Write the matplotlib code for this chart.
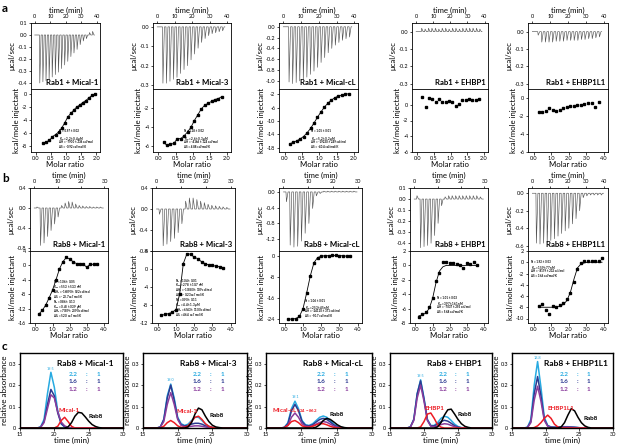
import numpy as np
import matplotlib.pyplot as plt
from matplotlib.ticker import FormatStrFormatter

plt.rcParams['font.family'] = ['Lato', 'DejaVu Sans']
plt.rcParams['mathtext.default'] = 'regular'
plt.rcParams['axes.unicode_minus'] = False

W, H = 617, 445

# ---------------- row a: Rab1 ITC ----------------
A_TITLES = ["Rab1 + Mical-1", "Rab1 + Mical-3", "Rab1 + Mical-cL", "Rab1 + EHBP1", "Rab1 + EHBP1L1"]
A_INJ_TIME = [3, 5, 7, 9, 11, 13, 15, 17, 19, 21, 23, 25, 27, 29, 31, 33, 35, 37]

A1_PEAKS = [-0.40, -0.39, -0.38, -0.37, -0.35, -0.33, -0.31, -0.28, -0.25, -0.22, -0.18, -0.15, -0.12, -0.08, -0.05, -0.03, 0.02, 0.03]
A2_PEAKS = [-0.29, -0.29, -0.28, -0.27, -0.26, -0.24, -0.22, -0.20, -0.17, -0.14, -0.11, -0.08, -0.06, -0.045, -0.035, -0.03, -0.025, -0.02]
A3_PEAKS = [-1.02, -1.05, -1.03, -1.00, -0.97, -0.93, -0.88, -0.82, -0.75, -0.66, -0.57, -0.48, -0.40, -0.34, -0.29, -0.25, -0.22, -0.19]
A4_PEAKS = [0.02, 0.015, 0.02, 0.02, 0.02, 0.015, 0.02, 0.02, 0.015, 0.02, 0.02, 0.015, 0.02, 0.02, 0.02, 0.02, 0.02, 0.015]
A5_PEAKS = [-0.02, -0.06, -0.06, -0.06, -0.06, -0.055, -0.055, -0.055, -0.05, -0.05, -0.05, -0.05, -0.045, -0.045, -0.04, -0.04, -0.035, -0.03]

A1_RATIO = [0.25, 0.35, 0.45, 0.55, 0.65, 0.75, 0.85, 0.95, 1.05, 1.15, 1.25, 1.35, 1.45, 1.55, 1.65, 1.75, 1.85, 1.95]
A_RATIO = [0.15, 0.25, 0.35, 0.45, 0.55, 0.65, 0.75, 0.85, 0.95, 1.05, 1.15, 1.25, 1.35, 1.45, 1.55, 1.65, 1.75, 1.85]
A5_RATIO = [0.3, 0.5, 0.7, 0.9, 1.1, 1.3, 1.5, 1.7, 1.9, 2.1, 2.3, 2.5, 2.7, 2.9, 3.1, 3.3, 3.5, 3.7]

A1_HEAT = [-7.6, -7.4, -7.2, -6.6, -6.3, -5.9, -5.3, -4.5, -3.6, -3.0, -2.5, -2.0, -1.7, -1.3, -1.0, -0.6, -0.2, 0.0]
A2_HEAT = [-5.6, -5.9, -5.8, -5.7, -5.2, -5.2, -4.9, -4.5, -4.0, -3.3, -2.7, -2.1, -1.7, -1.5, -1.3, -1.1, -1.0, -0.8]
A3_HEAT = [-16.8, -16.3, -15.9, -15.3, -14.6, -13.5, -12.2, -10.6, -8.9, -7.3, -5.9, -4.7, -3.8, -3.1, -2.6, -2.3, -2.1, -1.9]
A4_HEAT = [1.0, -0.3, 0.8, 0.7, 0.4, 0.7, 0.3, 0.3, 0.5, 0.4, -0.2, 0.1, 0.6, 0.6, 0.7, 0.6, 0.6, 0.7]
A5_HEAT = [-1.5, -1.6, -1.4, -1.1, -1.3, -1.4, -1.3, -1.1, -1.0, -0.9, -0.9, -0.8, -0.8, -0.7, -0.6, -0.6, -1.0, -0.4]

A_NOTES = [
    ["N = 0.97 ± 0.02", "K$_D$ = 2.2 ± 0.4 μM", "ΔH = -7900 ± 236 cal/mol", "ΔS = -0.92 cal/mol/K"],
    ["N = 1.18 ± 0.02", "K$_D$ = 2.6 ± 0.3 μM", "ΔH = -4166 ± 124 cal/mol", "ΔS = 4.88 cal/mol/K"],
    ["N = 1.05 ± 0.01", "K$_D$ = 5.2 ± 0.2 μM", "ΔH = -19230 ± 249 cal/mol", "ΔS = -40.4 cal/mol/K"],
    None, None,
]

# ---------------- row b: Rab8 ITC ----------------
B_TITLES = ["Rab8 + Mical-1", "Rab8 + Mical-3", "Rab8 + Mical-cL", "Rab8 + EHBP1", "Rab8 + EHBP1L1"]
B_INJ_TIME = [1, 2.5, 4, 5.5, 7, 8.5, 10, 11.5, 13, 14.5, 16, 17.5, 19, 20.5, 22, 23.5, 25, 26.5, 28]
B5_INJ_TIME = [2, 4, 6, 8, 10, 12, 14, 16, 18, 20, 22, 24, 26, 28, 30, 32, 34, 36, 38]

B1_PEAKS = [0.02, -0.75, -0.70, -0.57, -0.45, -0.32, -0.18, 0.05, 0.10, 0.13, 0.12, 0.08, 0.05, 0.04, 0.03, 0.03, 0.02, 0.02, 0.02]
B2_PEAKS = [-0.10, -0.70, -0.67, -0.62, -0.56, -0.45, -0.28, 0.15, 0.21, 0.21, 0.18, 0.15, 0.12, 0.09, 0.07, 0.06, 0.05, 0.04, 0.03]
B3_PEAKS = [-0.25, -1.35, -1.40, -1.38, -1.25, -1.05, -0.80, -0.42, -0.10, -0.04, 0.02, 0.02, 0.02, 0.02, 0.02, 0.02, 0.02, 0.02, 0.02]
B4_PEAKS = [0.03, -0.44, -0.43, -0.42, -0.40, -0.33, -0.22, -0.06, 0.02, 0.03, 0.03, 0.03, 0.03, 0.03, 0.03, 0.03, 0.03, 0.03, 0.02]
B5_PEAKS = [-0.57, -0.58, -0.57, -0.56, -0.54, -0.52, -0.49, -0.46, -0.43, -0.40, -0.35, -0.29, -0.20, -0.05, -0.03, -0.02, -0.02, -0.02, -0.02]

B_RATIO = [0.2, 0.4, 0.6, 0.8, 1.0, 1.2, 1.4, 1.6, 1.8, 2.0, 2.2, 2.4, 2.6, 2.8, 3.0, 3.2, 3.4, 3.6]
B5_RATIO = [0.3, 0.5, 0.7, 0.9, 1.1, 1.3, 1.5, 1.7, 1.9, 2.1, 2.3, 2.5, 2.7, 2.9, 3.1, 3.3, 3.5, 3.7, 3.9]

B1_HEAT = [-13.5, -12.5, -11.0, -9.0, -6.8, -4.0, -1.0, 1.0, 2.2, 1.8, 1.0, 0.5, 0.5, 0.3, -0.5, 0.3, 0.3, 0.3]
B2_HEAT = [-10.3, -10.1, -9.9, -9.6, -9.0, -5.5, 1.2, 3.4, 3.3, 2.6, 2.3, 1.6, 1.2, 0.9, 0.8, 0.6, 0.5, 0.3]
B3_HEAT = [-24.0, -24.0, -23.8, -23.0, -20.0, -14.0, -7.5, -2.5, -0.5, 0.0, 0.2, 0.2, 0.3, 0.3, 0.2, 0.2, 0.0, 0.2]
B4_HEAT = [-7.2, -6.8, -6.5, -5.8, -4.5, -2.1, -1.1, 0.5, 0.5, 0.4, 0.3, 0.2, 0.1, -0.4, 0.3, 0.2, 0.5, 0.1]
B5_HEAT = [-7.8, -7.5, -8.5, -9.2, -7.8, -8.0, -7.6, -7.2, -6.5, -5.5, -3.5, -1.2, -0.2, 0.2, 0.3, 0.3, 0.2, 0.3, 0.7]

B4_FIT = [-7.0, -6.9, -6.6, -6.0, -4.6, -2.4, -0.8, -0.2, 0.0, 0.0, 0.0, 0.0, 0.0, 0.0, 0.0, 0.0, 0.0, 0.0]
B5_FIT = [-8.0, -8.0, -8.0, -8.0, -8.0, -7.9, -7.8, -7.5, -6.8, -5.3, -3.0, -1.0, -0.3, -0.1, 0.0, 0.0, 0.0, 0.0, 0.0]

B_NOTES = [
    ["N$_1$ = 1.06 ± 0.05", "K$_{D1}$ = 55.3 ± 53.3 nM", "ΔH$_1$ = -16090 ± 922 cal/mol", "ΔS$_1$ = -20.7 cal/mol/K",
     "N$_2$ = 0.86 ± 0.13", "K$_{D2}$ = 0.48 ± 0.39 μM", "ΔH$_2$ = 7039 ± 2390 cal/mol", "ΔS$_2$ = 52.0 cal/mol/K"],
    ["N$_1$ = 1.04 ± 0.01", "K$_{D1}$ = 27.8 ± 10.7 nM", "ΔH$_1$ = -10380 ± 109 cal/mol", "ΔS$_1$ = -0.23 cal/mol/K",
     "N$_2$ = 0.90 ± 0.11", "K$_{D2}$ = 4.4 ± 1.3 μM", "ΔH$_2$ = 6543 ± 1100 cal/mol", "ΔS$_2$ = 46.4 cal/mol/K"],
    ["N = 1.06 ± 0.01", "K$_D$ = 253 ± 45 nM", "ΔH = -24110 ± 371 cal/mol", "ΔS = -50.7 cal/mol/K"],
    ["N = 1.01 ± 0.03", "K$_D$ = 397 ± 161 nM", "ΔH = -7037 ± 293 cal/mol", "ΔS = 5.68 cal/mol/K"],
    ["N = 1.92 ± 0.03", "K$_D$ = 159 ± 77 nM", "ΔH = -8179 ± 232 cal/mol", "ΔS = 3.66 cal/mol/K"],
]

# ---------------- row c: SEC ----------------
C_TITLES = ["Rab8 + Mical-1", "Rab8 + Mical-3", "Rab8 + Mical-cL", "Rab8 + EHBP1", "Rab8 + EHBP1L1"]
C_PARTNER = ["Mical-1", "Mical-3", "Mical-cL$_{\\,524-862}$", "EHBP1", "EHBP1L1"]
C_GRID_START = [17.0, 17.0, 17.1, 17.0, 16.8]   # 21 samples, 0.5 min apart
C_PEAK_LABEL = ["19.5", "19.0", "19.1", "19.5", "18.8"]
RATIOS = ["2.2", "1.6", "1.2"]

C1_LB = [0, 0, 0.005, 0.04, 0.16, 0.26, 0.19, 0.08, 0.02, 0.005, 0, 0, 0, 0, 0, 0, 0, 0, 0, 0, 0]
C1_DB = [0, 0, 0.004, 0.03, 0.11, 0.18, 0.15, 0.07, 0.02, 0.006, 0.002, 0, 0, 0, 0, 0, 0, 0, 0, 0, 0]
C1_PU = [0, 0, 0.003, 0.025, 0.09, 0.155, 0.14, 0.075, 0.028, 0.01, 0.003, 0, 0, 0, 0, 0, 0, 0, 0, 0, 0]
C1_RED = [0, 0, 0, 0, 0, 0, 0, 0.008, 0.035, 0.05, 0.03, 0.008, 0, 0, 0, 0, 0, 0, 0, 0, 0]
C1_BLK = [0, 0, 0, 0, 0, 0, 0, 0, 0, 0, 0.005, 0.025, 0.055, 0.073, 0.07, 0.052, 0.032, 0.016, 0.007, 0.002, 0]

C2_LB = [0, 0.005, 0.04, 0.15, 0.205, 0.14, 0.05, 0.02, 0.012, 0.018, 0.035, 0.05, 0.05, 0.035, 0.018, 0.008, 0.003, 0, 0, 0, 0]
C2_DB = [0, 0.005, 0.04, 0.14, 0.20, 0.13, 0.045, 0.015, 0.01, 0.012, 0.018, 0.022, 0.022, 0.018, 0.01, 0.005, 0.002, 0, 0, 0, 0]
C2_PU = [0, 0.004, 0.03, 0.11, 0.165, 0.11, 0.04, 0.012, 0.006, 0.006, 0.008, 0.01, 0.01, 0.008, 0.005, 0.002, 0, 0, 0, 0, 0]
C2_RED = [0, 0, 0.008, 0.025, 0.035, 0.025, 0.01, 0.003, 0.003, 0.01, 0.03, 0.05, 0.055, 0.04, 0.02, 0.008, 0.003, 0, 0, 0, 0]
C2_BLK = [0, 0, 0, 0, 0, 0, 0, 0, 0, 0.005, 0.025, 0.065, 0.093, 0.085, 0.055, 0.03, 0.013, 0.005, 0.002, 0, 0]

C3_LB = [0, 0.003, 0.025, 0.09, 0.125, 0.09, 0.035, 0.015, 0.012, 0.02, 0.035, 0.05, 0.056, 0.05, 0.035, 0.018, 0.008, 0.003, 0, 0, 0]
C3_DB = [0, 0.003, 0.02, 0.08, 0.11, 0.08, 0.03, 0.012, 0.01, 0.015, 0.028, 0.04, 0.045, 0.04, 0.028, 0.014, 0.006, 0.002, 0, 0, 0]
C3_PU = [0, 0.002, 0.012, 0.05, 0.07, 0.05, 0.02, 0.008, 0.006, 0.01, 0.018, 0.026, 0.03, 0.027, 0.018, 0.009, 0.004, 0.001, 0, 0, 0]
C3_RED = [0, 0.002, 0.012, 0.03, 0.035, 0.025, 0.01, 0.004, 0.004, 0.008, 0.015, 0.02, 0.02, 0.015, 0.008, 0.003, 0, 0, 0, 0, 0]
C3_BLK = [0, 0, 0, 0, 0, 0, 0, 0, 0, 0, 0.004, 0.015, 0.035, 0.045, 0.04, 0.028, 0.015, 0.006, 0.002, 0, 0]

C4_LB = [0, 0, 0.005, 0.04, 0.16, 0.225, 0.14, 0.04, 0.012, 0.012, 0.025, 0.045, 0.055, 0.05, 0.035, 0.018, 0.007, 0.002, 0, 0, 0]
C4_DB = [0, 0, 0.005, 0.04, 0.16, 0.22, 0.135, 0.038, 0.01, 0.01, 0.018, 0.03, 0.036, 0.032, 0.022, 0.011, 0.004, 0.001, 0, 0, 0]
C4_PU = [0, 0, 0.004, 0.035, 0.14, 0.20, 0.125, 0.035, 0.008, 0.006, 0.01, 0.016, 0.02, 0.018, 0.012, 0.006, 0.002, 0, 0, 0, 0]
C4_RED = [0, 0, 0, 0, 0, 0.005, 0.03, 0.065, 0.07, 0.045, 0.015, 0.004, 0, 0, 0, 0, 0, 0, 0, 0, 0]
C4_BLK = [0, 0, 0, 0, 0, 0, 0, 0, 0, 0, 0.005, 0.025, 0.06, 0.085, 0.088, 0.065, 0.04, 0.02, 0.008, 0.003, 0]

C5_LB = [0, 0.004, 0.04, 0.20, 0.31, 0.19, 0.05, 0.012, 0.005, 0.004, 0.004, 0.005, 0.006, 0.006, 0.005, 0.004, 0.002, 0.001, 0, 0, 0]
C5_DB = [0, 0.003, 0.03, 0.16, 0.24, 0.15, 0.04, 0.01, 0.004, 0.003, 0.003, 0.004, 0.005, 0.005, 0.004, 0.003, 0.002, 0, 0, 0, 0]
C5_PU = [0, 0.002, 0.025, 0.13, 0.195, 0.125, 0.035, 0.008, 0.003, 0.002, 0.002, 0.003, 0.004, 0.004, 0.003, 0.002, 0.001, 0, 0, 0, 0]
C5_RED = [0, 0, 0, 0.002, 0.01, 0.025, 0.045, 0.06, 0.045, 0.018, 0.005, 0, 0, 0, 0, 0, 0, 0, 0, 0, 0]
C5_BLK = [0, 0, 0, 0, 0, 0, 0, 0, 0, 0, 0, 0.005, 0.025, 0.06, 0.09, 0.08, 0.05, 0.025, 0.01, 0.003, 0]

LB, DB, PU, RED = "#27aae1", "#2b3990", "#8a3c9c", "#ed1c24"
TICK_FS, LAB_FS = 4, 5.6

fig = plt.figure(figsize=(W / 100, H / 100), dpi=100)


def add_ax(l, r, top, bot):
    return fig.add_axes([l / W, 1 - bot / H, (r - l) / W, (bot - top) / H])


def style(ax):
    ax.tick_params(labelsize=TICK_FS, length=1.8, width=0.5, pad=0.8)
    for s in ax.spines.values():
        s.set_linewidth(0.6)


def itc(l, r, top, mid, bot, times, peaks, tend, tticks, ylim_t, yticks_t,
        ratio, heat, fit, xticks_b, ylim_b, yticks_b, title, note, note_xy, step_px):
    at = add_ax(l, r, top, mid)
    # thermogram: baseline with one spike per injection
    xs, ys = [0], [0]
    for t, p in zip(times, peaks):
        xs += [t, t + 0.25 * tend / 40, t + 1.1 * tend / 40]
        ys += [0, p, 0]
    xs.append(times[-1] + 1.5)
    ys.append(0)
    at.plot(xs, ys, color="#555555", lw=0.45)
    at.set_xlim(-0.06 * tend, 1.05 * tend)
    at.set_xticks(tticks)
    at.xaxis.tick_top()
    at.xaxis.set_label_position("top")
    at.set_xlabel("time (min)", fontsize=LAB_FS, labelpad=1)
    at.set_ylim(*ylim_t)
    at.set_yticks(yticks_t)
    at.yaxis.set_major_formatter(FormatStrFormatter("%.1f"))
    at.set_ylabel("μcal/sec", fontsize=LAB_FS, labelpad=1.5)
    at.text(0.97, 0.04, title, transform=at.transAxes, ha="right", va="bottom",
            fontsize=5.6, fontweight="bold")
    style(at)

    ab = add_ax(l, r, mid, bot)
    if fit is not None:
        ab.plot(ratio, fit, color="black", lw=0.6)
    ab.plot(ratio, heat, "s", color="black", ms=1.7)
    xmax = xticks_b[-1]
    ab.set_xlim(-0.08 * xmax, 1.06 * xmax)
    ab.set_xticks(xticks_b)
    ab.xaxis.set_major_formatter(FormatStrFormatter("%.1f"))
    ab.set_ylim(*ylim_b)
    ab.set_yticks(yticks_b)
    ab.set_xlabel("Molar ratio", fontsize=LAB_FS, labelpad=0.5)
    ab.set_ylabel("kcal/mole injectant", fontsize=LAB_FS, labelpad=1.5)
    if note:
        # one text per line, fixed pixel step, keeps the block compact
        dy = step_px / (bot - mid)
        for j, line in enumerate(note):
            ab.text(note_xy[0], note_xy[1] - dy * j, line, transform=ab.transAxes,
                    ha="left", va="top", fontsize=2.1, fontweight="bold")
    style(ab)


# row a
A_X = [(31, 100), (153, 231), (279, 358), (412, 488), (528, 608)]
a_peaks = [A1_PEAKS, A2_PEAKS, A3_PEAKS, A4_PEAKS, A5_PEAKS]
a_ratio = [A1_RATIO, A_RATIO, A_RATIO, A_RATIO, A5_RATIO]
a_heat = [A1_HEAT, A2_HEAT, A3_HEAT, A4_HEAT, A5_HEAT]
a_fit = [A1_HEAT, A2_HEAT, A3_HEAT, None, None]
a_ylim_t = [(-0.45, 0.1), (-0.32, 0.02), (-1.15, 0.07), (-0.33, 0.05), (-0.33, 0.05)]
a_yticks_t = [[0.1, 0.0, -0.1, -0.2, -0.3, -0.4], [0.0, -0.1, -0.2, -0.3],
              [0.0, -0.2, -0.4, -0.6, -0.8, -1.0], [0.0, -0.1, -0.2, -0.3],
              [0.0, -0.1, -0.2, -0.3]]
a_ylim_b = [(-9, 0.8), (-6.6, 0.0), (-19.2, -0.5), (-6, 2), (-6, 1)]
a_yticks_b = [[0, -2, -4, -6, -8], [-2, -4, -6], [-2, -6, -10, -14, -18],
              [0, -2, -4, -6], [0, -2, -4, -6]]
a_xticks_b = [[0, 0.5, 1.0, 1.5, 2.0]] * 4 + [[0, 1, 2, 3, 4]]
for i in range(5):
    itc(A_X[i][0], A_X[i][1], 23, 89, 152, A_INJ_TIME, a_peaks[i], 40,
        [0, 10, 20, 30, 40], a_ylim_t[i], a_yticks_t[i], a_ratio[i], a_heat[i],
        a_fit[i], a_xticks_b[i], a_ylim_b[i], a_yticks_b[i], A_TITLES[i],
        A_NOTES[i], (0.4, 0.36), 5.2)

# row b
B_X = [(30, 108), (152, 235), (279, 362), (410, 488), (528, 608)]
b_peaks = [B1_PEAKS, B2_PEAKS, B3_PEAKS, B4_PEAKS, B5_PEAKS]
b_times = [B_INJ_TIME] * 4 + [B5_INJ_TIME]
b_ratio = [B_RATIO] * 4 + [B5_RATIO]
b_heat = [B1_HEAT, B2_HEAT, B3_HEAT, B4_HEAT, B5_HEAT]
b_fit = [B1_HEAT, B2_HEAT, B3_HEAT, B4_FIT, B5_FIT]
b_tend = [30, 30, 30, 30, 40]
b_tticks = [[0, 10, 20, 30]] * 4 + [[0, 10, 20, 30, 40]]
b_ylim_t = [(-0.86, 0.4), (-0.8, 0.4), (-1.5, 0.1), (-0.47, 0.1), (-0.66, 0.06)]
b_yticks_t = [[0.4, 0.0, -0.4, -0.8], [0.4, 0.0, -0.4, -0.8], [0.0, -0.4, -0.8, -1.2],
              [0.1, 0.0, -0.1, -0.2, -0.3, -0.4], [0.0, -0.2, -0.4, -0.6]]
b_ylim_b = [(-16, 4), (-12, 4), (-25.5, 2), (-8, 2), (-10.8, 2)]
b_yticks_b = [[4, 0, -4, -8, -12, -16], [4, 0, -4, -8, -12], [0, -8, -16, -24],
              [2, 0, -2, -4, -6, -8], [2, 0, -2, -4, -6, -8, -10]]
b_note_xy = [(0.3, 0.62), (0.28, 0.64), (0.31, 0.33), (0.34, 0.38), (0.04, 0.88)]
for i in range(5):
    itc(B_X[i][0], B_X[i][1], 188, 251, 323, b_times[i], b_peaks[i], b_tend[i],
        b_tticks[i], b_ylim_t[i], b_yticks_t[i], b_ratio[i], b_heat[i], b_fit[i],
        [0, 1, 2, 3, 4], b_ylim_b[i], b_yticks_b[i], B_TITLES[i], B_NOTES[i],
        b_note_xy[i], 4.9)

# row c
C_X = [(20, 123), (143, 247), (266, 372), (390, 492), (512, 613)]
c_curves = [
    (C1_LB, C1_DB, C1_PU, C1_RED, C1_BLK),
    (C2_LB, C2_DB, C2_PU, C2_RED, C2_BLK),
    (C3_LB, C3_DB, C3_PU, C3_RED, C3_BLK),
    (C4_LB, C4_DB, C4_PU, C4_RED, C4_BLK),
    (C5_LB, C5_DB, C5_PU, C5_RED, C5_BLK),
]
c_partner_xy = [(20.6, 0.068), (19.8, 0.066), (15.9, 0.062), (20.1, 0.081), (20.2, 0.078)]
c_rab8_xy = [(25.0, 0.043), (24.6, 0.047), (24.0, 0.052), (25.0, 0.05), (25.6, 0.035)]
for i in range(5):
    ax = add_ax(C_X[i][0], C_X[i][1], 353, 428)
    t = np.concatenate([[15], C_GRID_START[i] + 0.5 * np.arange(21), [30]])
    lb, db, pu, red, blk = c_curves[i]
    for ys, col in [(lb, LB), (db, DB), (pu, PU), (red, RED), (blk, "black")]:
        ax.plot(t, np.concatenate([[0], ys, [0]]), color=col, lw=1.1)
    k = int(np.argmax(lb))
    ax.text(t[k + 1], lb[k] + 0.008, C_PEAK_LABEL[i], color=LB, fontsize=2.8,
            ha="center", va="bottom")
    ax.text(*c_partner_xy[i], C_PARTNER[i], color=RED, fontsize=4.5,
            fontweight="bold", ha="left", va="bottom")
    ax.text(*c_rab8_xy[i], "Rab8", color="black", fontsize=4.5,
            fontweight="bold", ha="left", va="bottom")
    ax.text(0.63, 0.86, C_TITLES[i], transform=ax.transAxes, ha="center",
            va="center", fontsize=6, fontweight="bold")
    for j, col in enumerate([LB, DB, PU]):
        y = 0.72 - 0.105 * j
        ax.text(0.52, y, RATIOS[j], transform=ax.transAxes, color=col,
                fontsize=4.6, fontweight="bold", ha="center", va="center")
        ax.text(0.645, y, ":", transform=ax.transAxes, color=col,
                fontsize=4.6, fontweight="bold", ha="center", va="center")
        ax.text(0.76, y, "1", transform=ax.transAxes, color=col,
                fontsize=4.6, fontweight="bold", ha="center", va="center")
    ax.set_xlim(15, 30)
    ax.set_ylim(0, 0.35)
    ax.set_xticks([15, 20, 25, 30])
    ax.set_yticks([0, 0.1, 0.2, 0.3])
    ax.set_yticklabels(["0", "0.1", "0.2", "0.3"])
    ax.set_xlabel("time (min)", fontsize=5.8, labelpad=0)
    ax.set_ylabel("relative absorbance", fontsize=5.8, labelpad=0.5)
    ax.tick_params(labelsize=TICK_FS, length=1.8, width=0.5, pad=0.8)
    for s in ax.spines.values():
        s.set_linewidth(1.0)

for lab, y in [("a", 8), ("b", 178), ("c", 347)]:
    fig.text(2 / W, 1 - y / H, lab, fontsize=8.5, fontweight="bold", va="center")

fig.savefig("out.png", dpi=100)
